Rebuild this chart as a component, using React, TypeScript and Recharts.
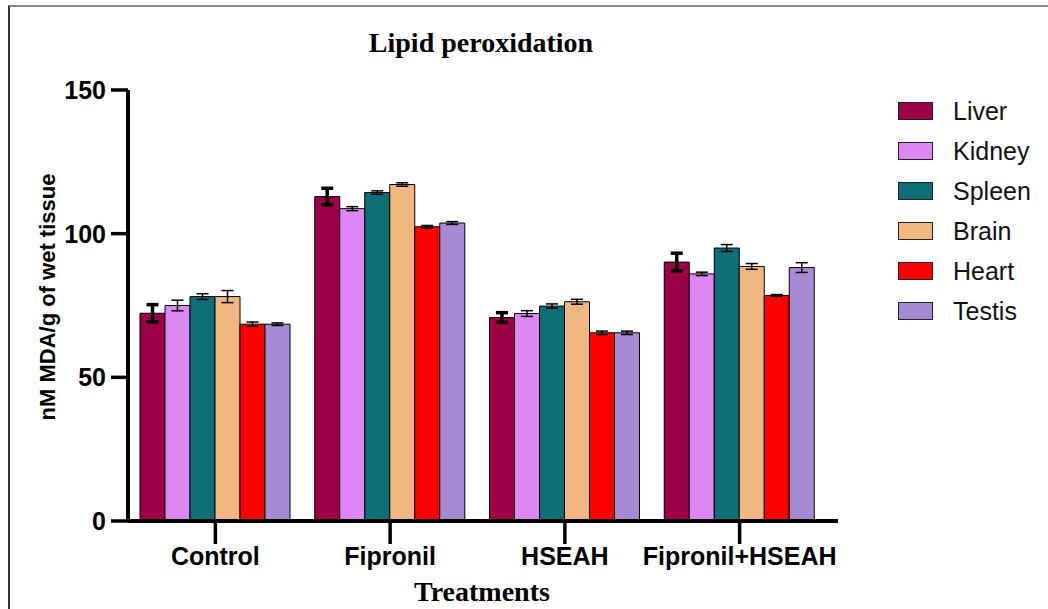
import { BarChart, Bar, XAxis, YAxis, ErrorBar } from 'recharts';

const categories = ['Control', 'Fipronil', 'HSEAH', 'Fipronil+HSEAH'];

const liver = [72.3, 112.9, 70.8, 90.1];
const liverErr = [3.0, 2.9, 1.7, 3.1];
const kidney = [75.0, 108.7, 72.2, 86.0];
const kidneyErr = [1.85, 0.7, 1.0, 0.6];
const spleen = [78.1, 114.3, 74.8, 95.0];
const spleenErr = [1.0, 0.6, 0.75, 1.2];
const brain = [78.1, 117.1, 76.3, 88.6];
const brainErr = [2.1, 0.6, 0.85, 1.0];
const heart = [68.5, 102.4, 65.5, 78.5];
const heartErr = [0.75, 0.45, 0.6, 0.3];
const testis = [68.5, 103.7, 65.5, 88.2];
const testisErr = [0.45, 0.5, 0.6, 1.7];

const yTicks = [0, 50, 100, 150];

const series = [
  { key: 'Liver', values: liver, errors: liverErr, color: '#9e0047', errWidth: 3.5 },
  { key: 'Kidney', values: kidney, errors: kidneyErr, color: '#dd88f5', errWidth: 1.5 },
  { key: 'Spleen', values: spleen, errors: spleenErr, color: '#0e6e78', errWidth: 1.5 },
  { key: 'Brain', values: brain, errors: brainErr, color: '#f0b880', errWidth: 1.5 },
  { key: 'Heart', values: heart, errors: heartErr, color: '#ff0000', errWidth: 1.5 },
  { key: 'Testis', values: testis, errors: testisErr, color: '#a68bd4', errWidth: 1.5 }
];

const data = categories.map((name, i) => {
  const row: Record<string, string | number> = { name };
  series.forEach((s) => {
    row[s.key] = s.values[i];
    row[s.key + '_err'] = s.errors[i];
  });
  return row;
});

const sans = 'Arial, "Liberation Sans", sans-serif';
const serif = '"Times New Roman", "Liberation Serif", serif';

export default function App() {
  return (
    <div style={{ position: 'absolute', left: 0, top: 0, width: 1048, height: 609, background: '#fff', overflow: 'hidden' }}>
      <div style={{ position: 'absolute', left: 8, top: 5, width: 1060, height: 620, borderTop: '2px solid #8a8a8a', borderLeft: '2px solid #333' }} />
      <BarChart
        width={1048}
        height={609}
        data={data}
        margin={{ top: 90, right: 210, bottom: 28, left: 0 }}
        barCategoryGap={12}
        barGap={0}
      >
        <XAxis
          dataKey="name"
          height={60}
          padding={{ left: 0, right: 11 }}
          axisLine={{ stroke: '#000', strokeWidth: 4 }}
          tickLine={{ stroke: '#000', strokeWidth: 3.5 }}
          tickSize={23}
          tickMargin={3}
          tick={{ fill: '#000', fontSize: 25, fontWeight: 700, fontFamily: sans }}
          interval={0}
        />
        <YAxis
          width={128}
          domain={[0, 150]}
          ticks={yTicks}
          axisLine={{ stroke: '#000', strokeWidth: 4 }}
          tickLine={{ stroke: '#000', strokeWidth: 3.5 }}
          tickSize={17}
          tickMargin={5}
          tick={{ fill: '#000', fontSize: 25, fontWeight: 700, fontFamily: sans }}
        />
        {series.map((s) => (
          <Bar key={s.key} dataKey={s.key} fill={s.color} stroke="#000" strokeWidth={1} isAnimationActive={false}>
            <ErrorBar dataKey={s.key + '_err'} width={6} stroke="#000" strokeWidth={s.errWidth} />
          </Bar>
        ))}
      </BarChart>

      <div style={{ position: 'absolute', left: 0, width: 962, top: 27, textAlign: 'center', fontFamily: serif, fontWeight: 700, fontSize: 28, color: '#000' }}>
        Lipid peroxidation
      </div>
      <div style={{ position: 'absolute', left: 0, width: 964, top: 576, textAlign: 'center', fontFamily: serif, fontWeight: 700, fontSize: 28, color: '#000' }}>
        Treatments
      </div>
      <div
        style={{
          position: 'absolute',
          left: 48,
          top: 297,
          transform: 'translate(-50%, -50%) rotate(-90deg)',
          whiteSpace: 'nowrap',
          fontFamily: sans,
          fontWeight: 700,
          fontSize: 22,
          color: '#000'
        }}
      >
        nM MDA/g of wet tissue
      </div>

      {series.map((s, i) => (
        <div key={s.key} style={{ position: 'absolute', left: 898, top: 96 + i * 40, height: 30, display: 'flex', alignItems: 'center' }}>
          <div style={{ width: 33, height: 16, background: s.color, border: '1px solid #222' }} />
          <span style={{ marginLeft: 20, fontFamily: sans, fontSize: 25, color: '#111' }}>{s.key}</span>
        </div>
      ))}
    </div>
  );
}
